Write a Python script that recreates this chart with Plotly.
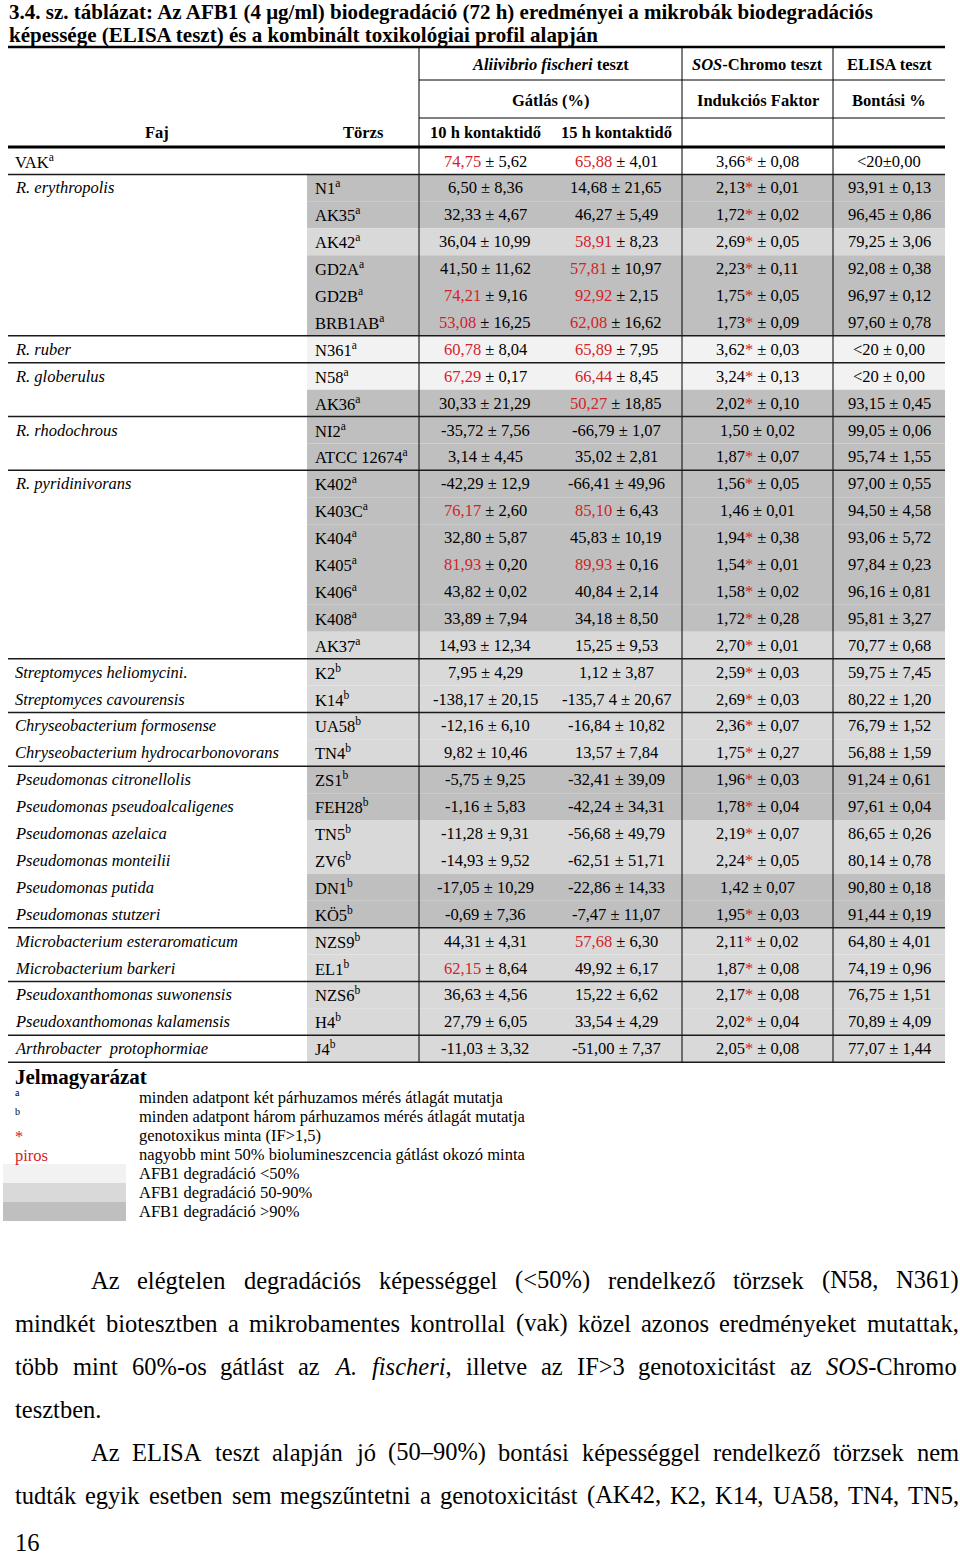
import re
import html
import plotly.graph_objects as go

FONT = "Liberation Serif"
PIROS = "#d2232a"

# ---- table data ----
faj = ["VAK", "R. erythropolis", "", "", "", "", "", "R. ruber", "R. globerulus", "",
       "R. rhodochrous", "", "R. pyridinivorans", "", "", "", "", "", "",
       "Streptomyces heliomycini.", "Streptomyces cavourensis",
       "Chryseobacterium formosense", "Chryseobacterium hydrocarbonovorans",
       "Pseudomonas citronellolis", "Pseudomonas pseudoalcaligenes", "Pseudomonas azelaica",
       "Pseudomonas monteilii", "Pseudomonas putida", "Pseudomonas stutzeri",
       "Microbacterium esteraromaticum", "Microbacterium barkeri",
       "Pseudoxanthomonas suwonensis", "Pseudoxanthomonas kalamensis",
       "Arthrobacter\u00a0 protophormiae"]
torzs = ["", "N1", "AK35", "AK42", "GD2A", "GD2B", "BRB1AB", "N361", "N58", "AK36",
         "NI2", "ATCC 12674", "K402", "K403C", "K404", "K405", "K406", "K408", "AK37",
         "K2", "K14", "UA58", "TN4", "ZS1", "FEH28", "TN5", "ZV6", "DN1", "KÖ5",
         "NZS9", "EL1", "NZS6", "H4", "J4"]
jel = ["a"] * 19 + ["b"] * 15
csoport = [1, 6, 1, 2, 2, 7, 2, 2, 6, 2, 2, 1]

gatlas10 = ["74,75", "6,50", "32,33", "36,04", "41,50", "74,21", "53,08", "60,78", "67,29", "30,33",
            "-35,72", "3,14", "-42,29", "76,17", "32,80", "81,93", "43,82", "33,89", "14,93",
            "7,95", "-138,17", "-12,16", "9,82", "-5,75", "-1,16", "-11,28", "-14,93", "-17,05", "-0,69",
            "44,31", "62,15", "36,63", "27,79", "-11,03"]
gatlas10_sd = ["5,62", "8,36", "4,67", "10,99", "11,62", "9,16", "16,25", "8,04", "0,17", "21,29",
               "7,56", "4,45", "12,9", "2,60", "5,87", "0,20", "0,02", "7,94", "12,34",
               "4,29", "20,15", "6,10", "10,46", "9,25", "5,83", "9,31", "9,52", "10,29", "7,36",
               "4,31", "8,64", "4,56", "6,05", "3,32"]
gatlas15 = ["65,88", "14,68", "46,27", "58,91", "57,81", "92,92", "62,08", "65,89", "66,44", "50,27",
            "-66,79", "35,02", "-66,41", "85,10", "45,83", "89,93", "40,84", "34,18", "15,25",
            "1,12", "-135,7 4", "-16,84", "13,57", "-32,41", "-42,24", "-56,68", "-62,51", "-22,86", "-7,47",
            "57,68", "49,92", "15,22", "33,54", "-51,00"]
gatlas15_sd = ["4,01", "21,65", "5,49", "8,23", "10,97", "2,15", "16,62", "7,95", "8,45", "18,85",
               "1,07", "2,81", "49,96", "6,43", "10,19", "0,16", "2,14", "8,50", "9,53",
               "3,87", "20,67", "10,82", "7,84", "39,09", "34,31", "49,79", "51,71", "14,33", "11,07",
               "6,30", "6,17", "6,62", "4,29", "7,37"]
indukcio = ["3,66", "2,13", "1,72", "2,69", "2,23", "1,75", "1,73", "3,62", "3,24", "2,02",
            "1,50", "1,87", "1,56", "1,46", "1,94", "1,54", "1,58", "1,72", "2,70",
            "2,59", "2,69", "2,36", "1,75", "1,96", "1,78", "2,19", "2,24", "1,42", "1,95",
            "2,11", "1,87", "2,17", "2,02", "2,05"]
indukcio_sd = ["0,08", "0,01", "0,02", "0,05", "0,11", "0,05", "0,09", "0,03", "0,13", "0,10",
               "0,02", "0,07", "0,05", "0,01", "0,38", "0,01", "0,02", "0,28", "0,01",
               "0,03", "0,03", "0,07", "0,27", "0,03", "0,04", "0,07", "0,05", "0,07", "0,03",
               "0,02", "0,08", "0,08", "0,04", "0,08"]
bontas = ["<20", "93,91", "96,45", "79,25", "92,08", "96,97", "97,60", "<20", "<20", "93,15",
          "99,05", "95,74", "97,00", "94,50", "93,06", "97,84", "96,16", "95,81", "70,77",
          "59,75", "80,22", "76,79", "56,88", "91,24", "97,61", "86,65", "80,14", "90,80", "91,44",
          "64,80", "74,19", "76,75", "70,89", "77,07"]
bontas_sd = ["0,00", "0,13", "0,86", "3,06", "0,38", "0,12", "0,78", "0,00", "0,00", "0,45",
             "0,06", "1,55", "0,55", "4,58", "5,72", "0,23", "0,81", "3,27", "0,68",
             "7,45", "1,20", "1,52", "1,59", "0,61", "0,04", "0,26", "0,78", "0,18", "0,19",
             "4,01", "0,96", "1,51", "4,09", "1,44"]

jelmagyarazat = ["minden adatpont két párhuzamos mérés átlagát mutatja",
                 "minden adatpont három párhuzamos mérés átlagát mutatja",
                 "genotoxikus minta (IF&gt;1,5)",
                 "nagyobb mint 50% biolumineszcencia gátlást okozó minta",
                 "AFB1 degradáció &lt;50%", "AFB1 degradáció 50-90%", "AFB1 degradáció &gt;90%"]
szurke = ["#f2f2f2", "#d9d9d9", "#bfbfbf"]

bekezdes = [
    ("Az elégtelen degradációs képességgel (&lt;50%) rendelkező törzsek (N58, N361)", 90, True),
    ("mindkét biotesztben a mikrobamentes kontrollal (vak) közel azonos eredményeket mutattak,", 14, True),
    ("több mint 60%-os gátlást az <i>A.</i> <i>fischeri</i>, illetve az IF&gt;3 genotoxicitást az <i>SOS</i>-Chromo", 14, True),
    ("tesztben.", 14, False),
    ("Az ELISA teszt alapján jó (50–90%) bontási képességgel rendelkező törzsek nem", 90, True),
    ("tudták egyik esetben sem megszűntetni a genotoxicitást (AK42, K2, K14, UA58, TN4, TN5,", 14, True),
]


def szam(s):
    s = s.replace(" ", "").replace(",", ".").replace("<", "")
    return float(s)


def szin(s):
    # ELISA degradation -> row shading
    v = szam(s)
    if v > 90:
        return szurke[2]
    if v >= 50:
        return szurke[1]
    return szurke[0]


# Times / Liberation Serif advance widths (1/1000 em), for justified text
W = dict(zip("abcdefghijklmnopqrstuvwxyz",
             [444, 500, 444, 500, 444, 333, 500, 500, 278, 278, 500, 278, 778, 500, 500, 500, 500, 333, 389,
              278, 500, 500, 722, 500, 500, 444]))
W.update(dict(zip("ABCDEFGHIJKLMNOPQRSTUVWXYZ",
                  [722, 667, 667, 722, 611, 556, 722, 722, 333, 389, 722, 611, 889, 722, 722, 556, 722, 667,
                   556, 611, 722, 722, 944, 722, 722, 611])))
W.update({" ": 250, "(": 333, ")": 333, ",": 250, ".": 250, "%": 833, "<": 564, ">": 564,
          "-": 333, "–": 500, ":": 278})
for d in "0123456789":
    W[d] = 500
EKEZET = str.maketrans("áéíóöőúüűÁÉÍÓÖŐÚÜŰ", "aeiooouuuAEIOOOUUU")


def szelesseg(s, size):
    s = html.unescape(re.sub(r"<[^>]+>", "", s)).translate(EKEZET)
    return sum(W.get(c, 500) for c in s) * size / 1000


fig = go.Figure()

# row geometry
y0, sor = 161, 26.9
sor_y = [y0 + sor * i for i in range(len(torzs))]
x_bal, x_jobb, x_torzs = 8, 945, 307

# shaded strain cells
fig.add_trace(go.Bar(
    orientation="h", y=sor_y[1:], x=[x_jobb - x_torzs] * (len(torzs) - 1), base=x_torzs,
    width=sor, marker=dict(color=[szin(b) for b in bontas[1:]], line=dict(width=0)),
    hoverinfo="skip"))

# legend swatches
leg_y = [1173.5, 1192.5, 1211.5]
fig.add_trace(go.Bar(
    orientation="h", y=leg_y, x=[123] * 3, base=3, width=19,
    marker=dict(color=szurke, line=dict(width=0)), hoverinfo="skip"))


def felirat(x, y, s, size=16.5, anchor="left", color="black"):
    fig.add_annotation(x=x, y=y, xref="x", yref="y", text=s, showarrow=False,
                       xanchor=anchor, yanchor="middle", borderpad=0,
                       font=dict(family=FONT, size=size, color=color))


def vonal(xa, ya, xb, yb, w=1, c="black"):
    fig.add_shape(type="line", xref="x", yref="y", x0=xa, y0=ya, x1=xb, y1=yb,
                  line=dict(color=c, width=w))


# title
felirat(8, 12, "<b>3.4. sz. táblázat: Az AFB1 (4 μg/ml) biodegradáció (72 h) eredményei a mikrobák biodegradációs</b>", 21)
felirat(8, 35, "<b>képessége (ELISA teszt) és a kombinált toxikológiai profil alapján</b>", 21)

# table rules
also = sor_y[-1] + sor / 2
vonal(x_bal, 47, x_jobb, 47, 2.5)
vonal(419, 80, x_jobb, 80)
vonal(419, 118, x_jobb, 118)
vonal(x_bal, 147, x_jobb, 147, 3)
for xv in [419, 682, 833]:
    vonal(xv, 47, xv, also)
veg = -1
for n in csoport:
    veg += n
    vonal(x_bal, sor_y[veg] + sor / 2, x_jobb, sor_y[veg] + sor / 2, 1.5, "#1a1a1a")

# header
felirat(550.5, 64, "<b><i>Aliivibrio fischeri</i> teszt</b>", anchor="center")
felirat(757.5, 64, "<b><i>SOS</i>-Chromo teszt</b>", anchor="center")
felirat(889, 64, "<b>ELISA teszt</b>", anchor="center")
felirat(550.5, 100, "<b>Gátlás (%)</b>", anchor="center")
felirat(757.5, 100, "<b>Indukciós Faktor</b>", anchor="center")
felirat(889, 100, "<b>Bontási %</b>", anchor="center")
felirat(157, 132, "<b>Faj</b>", anchor="center")
felirat(363, 132, "<b>Törzs</b>", anchor="center")
felirat(485, 132, "<b>10 h kontaktidő</b>", anchor="center")
felirat(616, 132, "<b>15 h kontaktidő</b>", anchor="center")


def gatlas_cella(m, sd):
    if szam(m) > 50:
        return f'<span style="color:{PIROS}">{m}</span> ± {sd}'
    return f"{m} ± {sd}"


for i, y in enumerate(sor_y):
    if faj[i]:
        if i == 0:
            felirat(14, y, f"{faj[i]}<sup>{jel[i]}</sup>")
        else:
            felirat(14, y, f"<i>{faj[i]}</i>")
    if torzs[i]:
        felirat(314, y, f"{torzs[i]}<sup>{jel[i]}</sup>")
    felirat(485, y, gatlas_cella(gatlas10[i], gatlas10_sd[i]), anchor="center")
    felirat(616, y, gatlas_cella(gatlas15[i], gatlas15_sd[i]), anchor="center")
    csillag = f'<span style="color:{PIROS}">*</span>' if szam(indukcio[i]) > 1.5 else ""
    felirat(757.5, y, f"{indukcio[i]}{csillag} ± {indukcio_sd[i]}", anchor="center")
    sep = "±" if i == 0 else " ± "  # the control row is typeset without spaces
    felirat(889, y, html.escape(bontas[i]) + sep + bontas_sd[i], anchor="center")

# legend
felirat(14, 1077, "<b>Jelmagyarázat</b>", 21)
felirat(14, 1092, "a", 10)
felirat(14, 1111, "b", 10)
felirat(14, 1136, "*", 16.5, color=PIROS)
felirat(14, 1155, "piros", 16.5, color=PIROS)
for s, y in zip(jelmagyarazat, [1097, 1116, 1135, 1154] + leg_y):
    felirat(138, y, s)

# body text, justified word by word
fs = 24.5
for k, (sorszoveg, xs, sorkizart) in enumerate(bekezdes):
    y = 1280 + 43 * k
    szavak = sorszoveg.split(" ")
    wl = [szelesseg(w, fs) for w in szavak]
    if sorkizart and len(szavak) > 1:
        hezag = (958 - xs - sum(wl)) / (len(szavak) - 1)
    else:
        hezag = 0.25 * fs
    x = xs
    for w, ww in zip(szavak, wl):
        felirat(x, y, w, fs)
        x += ww + hezag
felirat(14, 1542, "16", fs)

fig.update_layout(
    width=960, height=1556, margin=dict(l=0, r=0, t=0, b=0),
    paper_bgcolor="white", plot_bgcolor="white", showlegend=False,
    barmode="overlay",
    xaxis=dict(range=[0, 960], visible=False, fixedrange=True),
    yaxis=dict(range=[1556, 0], visible=False, fixedrange=True),
)

# the page body has a default 8px margin; drop it so the figure sits at the window origin
fig.write_html("out.html", config={"displayModeBar": False},
               post_script="document.body.style.margin='0';")
